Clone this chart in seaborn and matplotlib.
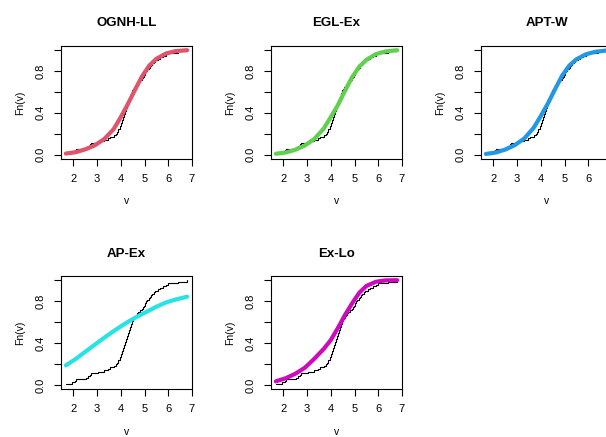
import numpy as np
import pandas as pd
import matplotlib
matplotlib.use("Agg")
import matplotlib.pyplot as plt
import seaborn as sns

v = [1.68, 1.93, 2.05, 2.12, 2.55, 2.60, 2.68, 2.75, 3.05, 3.30,
     3.45, 3.55, 3.70, 3.80, 3.84, 3.87, 3.90, 3.95, 3.98, 4.00,
     4.02, 4.03, 4.05, 4.08, 4.10, 4.12, 4.14, 4.16, 4.18, 4.20,
     4.22, 4.25, 4.27, 4.29, 4.31, 4.33, 4.35, 4.37, 4.40, 4.42,
     4.44, 4.46, 4.49, 4.52, 4.56, 4.60, 4.63, 4.67, 4.72, 4.80,
     4.88, 4.93, 4.97, 5.00, 5.03, 5.08, 5.12, 5.17, 5.22, 5.28,
     5.33, 5.38, 5.45, 5.58, 5.65, 5.80, 5.90, 6.00, 6.40, 6.80]

# fitted cdf curves, read at these points
fit_x = [1.68, 2.1, 2.5, 2.9, 3.3, 3.7, 4.0, 4.3, 4.6, 4.9, 5.2, 5.5, 5.9, 6.3, 6.8]
ognh_ll = [0.012, 0.025, 0.052, 0.090, 0.150, 0.245, 0.360, 0.485, 0.620, 0.750, 0.850, 0.915, 0.965, 0.988, 0.997]
egl_ex = [0.010, 0.022, 0.048, 0.088, 0.150, 0.250, 0.360, 0.475, 0.610, 0.740, 0.840, 0.905, 0.960, 0.985, 0.997]
apt_w = [0.008, 0.022, 0.050, 0.092, 0.155, 0.258, 0.370, 0.490, 0.625, 0.755, 0.850, 0.910, 0.958, 0.982, 0.995]
ap_ex = [0.188, 0.250, 0.318, 0.385, 0.452, 0.515, 0.560, 0.603, 0.642, 0.677, 0.712, 0.747, 0.787, 0.815, 0.843]
ex_lo = [0.036, 0.066, 0.108, 0.165, 0.250, 0.345, 0.430, 0.545, 0.669, 0.780, 0.880, 0.945, 0.985, 0.998, 1.000]

titles = ["OGNH-LL", "EGL-Ex", "APT-W", "AP-Ex", "Ex-Lo"]
fits = [ognh_ll, egl_ex, apt_w, ap_ex, ex_lo]
colors = ["#DF536B", "#61D04F", "#2297E6", "#28E2E5", "#CD0BBC"]

sns.set_style("ticks")
plt.rcParams['font.family'] = ['Liberation Sans', 'DejaVu Sans']
plt.rcParams['text.color'] = 'black'
plt.rcParams['axes.labelcolor'] = 'black'
plt.rcParams['xtick.color'] = 'black'
plt.rcParams['ytick.color'] = 'black'
plt.rcParams['axes.linewidth'] = 0.8
plt.rcParams['xtick.major.width'] = 0.8
plt.rcParams['ytick.major.width'] = 0.8
plt.rcParams['xtick.major.size'] = 4.8
plt.rcParams['ytick.major.size'] = 4.8

W, H = 606, 437
fig = plt.figure(figsize=(W / 100, H / 100), dpi=100)

# empirical cdf steps
v_sorted = np.sort(v)
ecdf = pd.DataFrame({"v": v_sorted, "Fn": np.arange(1, len(v) + 1) / len(v)})

for i, (title, fy, col) in enumerate(zip(titles, fits, colors)):
    row, c = divmod(i, 3)
    left = 61 + 210 * c
    top = 45.7 + 230.3 * row
    ax = fig.add_axes([left / W, 1 - (top + 113.3) / H, 131 / W, 113.3 / H])

    sns.lineplot(data=ecdf, x="v", y="Fn", ax=ax, color="black", linewidth=0.8,
                 estimator=None, sort=False, drawstyle="steps-post")
    sns.lineplot(x=fit_x, y=fy, ax=ax, color=col, linewidth=3.0,
                 estimator=None, sort=False)

    ax.set_xlim(1.475, 7.005)
    ax.set_ylim(-0.04, 1.04)
    ax.set_xticks([2, 3, 4, 5, 6, 7])
    xlabs = ["2", "3", "4", "5", "6", "7"]
    if left + 131 > W:
        # the last tick falls outside the picture
        xlabs[-1] = ""
    ax.set_xticklabels(xlabs, fontsize=8)
    ax.set_yticks([0, 0.2, 0.4, 0.6, 0.8, 1.0])
    ax.set_yticklabels(["0.0", "", "0.4", "", "0.8", ""], fontsize=8,
                       rotation=90, va="center")
    ax.tick_params(axis="x", pad=6)
    ax.tick_params(axis="y", pad=6.5)
    ax.set_xlabel("v", fontsize=7.5, labelpad=9)
    ax.set_ylabel("Fn(v)", fontsize=7.5, labelpad=7.5)
    ax.set_title(title, fontsize=9.5, fontweight="bold", pad=14)
    for s in ax.spines.values():
        s.set_visible(True)
        s.set_color("black")

fig.savefig("out.png", dpi=100)
